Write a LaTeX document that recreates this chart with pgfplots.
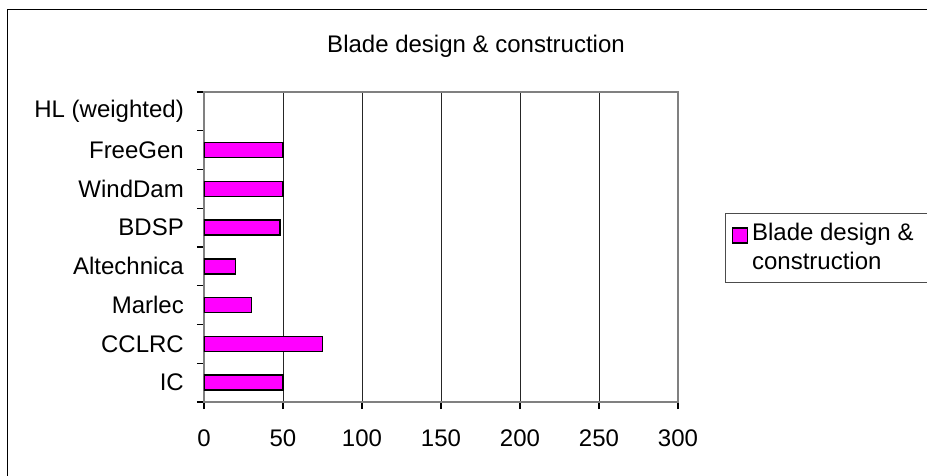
\documentclass[border=0pt]{standalone}
\usepackage{pgfplots}
\pgfplotsset{compat=1.18}
\usepackage{fontspec}
\setmainfont{Liberation Sans}
\definecolor{barpink}{RGB}{255,0,255}
\definecolor{framegray}{RGB}{128,128,128}

\begin{document}
\fontsize{24}{29}\selectfont
\begin{tikzpicture}
\useasboundingbox (0,0) rectangle (927pt,475pt);
% outer chart frame (open at right and bottom, as cropped)
\draw[line width=1.5pt] (7.5pt,-5pt) -- (7.5pt,465.5pt) -- (935pt,465.5pt);
\node at (476pt,429pt) {Blade design \& construction};
\begin{axis}[
    at={(204pt,73pt)}, anchor=south west,
    scale only axis, width=474pt, height=310pt,
    xmin=0, xmax=300, ymin=-0.5, ymax=7.5,
    xtick={0,50,...,300},
    ytick={0,...,7},
    yticklabels={IC,CCLRC,Marlec,Altechnica,BDSP,WindDam,FreeGen,HL (weighted)},
    minor ytick={-0.5,0.5,...,7.5},
    xmajorgrids=true,
    grid style={black!85, line width=0.6pt},
    tick align=outside,
    xtick pos=bottom, ytick pos=left,
    major tick length=7pt, minor tick length=7pt,
    major y tick style={draw=none},
    minor y tick style={black, line width=1.2pt},
    major x tick style={black, line width=1.2pt},
    axis line style={draw=framegray, line width=1.5pt},
    /pgf/number format/assume math mode=true,
    xticklabel style={yshift=-13pt},
    yticklabel style={xshift=-5pt},
    legend style={at={(1.0992,0.6097)}, anchor=north west,
        draw=black!70, line width=1.2pt, inner xsep=3pt, inner ysep=7.5pt,
        cells={align=left}},
    legend cell align=left,
    legend image code/.code={%
        \path (-3pt,0pt) (17pt,0pt);
        \draw[#1] (0pt,5pt) rectangle (15pt,20pt);},
]
\addplot[xbar, bar width=15pt, bar shift=0pt, fill=barpink, draw=black, line width=1.5pt]
    coordinates {(50,0) (75,1) (30,2) (20,3) (48,4) (50,5) (50,6)};
\addlegendentry{Blade design \&\hspace*{60pt}\\construction}
\end{axis}
\end{tikzpicture}
\end{document}
